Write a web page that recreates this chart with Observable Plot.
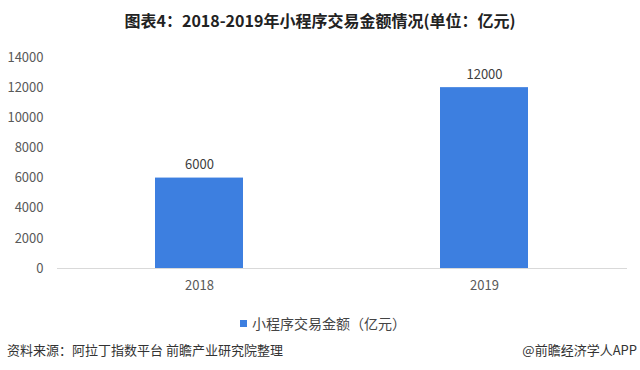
<!DOCTYPE html>
<html>
<head>
<meta charset="utf-8">
<script src="https://cdn.jsdelivr.net/npm/d3@7"></script>
<script src="https://cdn.jsdelivr.net/npm/@observablehq/plot@0.6"></script>
<style>
  body { margin: 0; background: #fff; font-family: "Noto Sans CJK SC", "Noto Sans", sans-serif; }
  #wrap { position: relative; width: 640px; height: 370px; overflow: hidden; }
  #title { position: absolute; left: 0; top: 8px; width: 640px; text-align: center; font-size: 16px; font-weight: bold; color: #222; line-height: 24px; }
  #chart { position: absolute; left: 0; top: 40px; }
  #legend { position: absolute; left: 240px; top: 312px; font-size: 14px; color: #444; line-height: 22px; display: flex; align-items: center; }
  #legend span.sw { display: inline-block; width: 7px; height: 7px; background: #3d7fe0; margin-right: 5px; }
  #src { position: absolute; left: 7px; top: 340px; font-size: 13px; color: #333; line-height: 20px; }
  #brand { position: absolute; right: 3px; top: 340px; font-size: 13px; color: #333; line-height: 20px; }
</style>
</head>
<body>
<div id="wrap">
  <div id="title">图表4：2018-2019年小程序交易金额情况(单位：亿元)</div>
  <div id="chart"></div>
  <div id="legend"><span class="sw"></span>小程序交易金额（亿元）</div>
  <div id="src">资料来源：阿拉丁指数平台 前瞻产业研究院整理</div>
  <div id="brand">@前瞻经济学人APP</div>
</div>
<script>
const years = ["2018", "2019"];
const amounts = [6000, 12000];
const yTicks = [0, 2000, 4000, 6000, 8000, 10000, 12000, 14000];
const seriesName = "小程序交易金额（亿元）";

const data = years.map((y, i) => ({year: y, value: amounts[i]}));

const chart = Plot.plot({
  width: 640,
  height: 260,
  marginLeft: 57,
  marginRight: 13,
  marginTop: 17,
  marginBottom: 32,
  style: { fontFamily: "'Noto Sans CJK SC', sans-serif", fontSize: "13px", color: "#595959", background: "#fff" },
  x: { domain: years, paddingInner: 0.69, paddingOuter: 0.345, label: null },
  y: { domain: [0, 14000], label: null },
  marks: [
    Plot.barY(data, { x: "year", y: "value", fill: "#3d7fe0" }),
    Plot.ruleY([0], { stroke: "#d9d9d9", strokeWidth: 1 }),
    Plot.text(data, { x: "year", y: "value", text: d => String(d.value), dy: -9, lineAnchor: "bottom", fill: "#404040", fontSize: 13 }),
    Plot.axisY({ ticks: yTicks, tickSize: 0, tickPadding: 14, tickFormat: d => String(d), fill: "#595959", fontSize: 13, label: null }),
    Plot.axisX({ tickSize: 0, tickPadding: 12, fill: "#595959", fontSize: 13, label: null })
  ]
});
document.getElementById("chart").appendChild(chart);
</script>
</body>
</html>
